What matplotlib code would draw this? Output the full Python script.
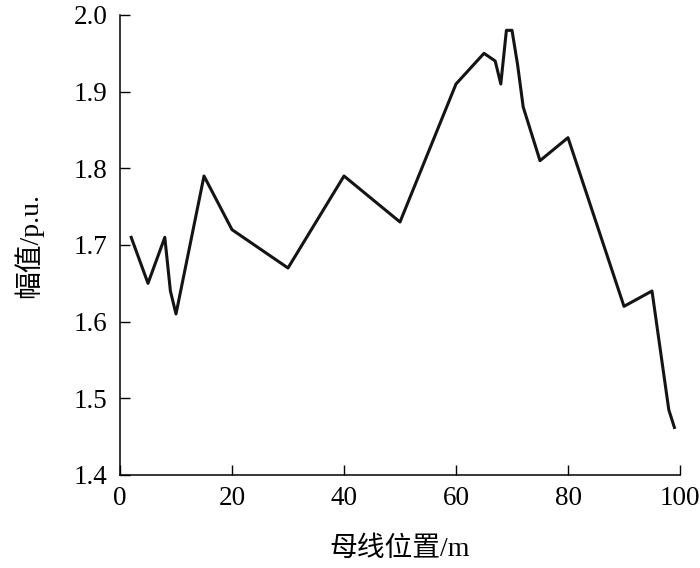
import matplotlib
matplotlib.use('Agg')
import matplotlib.pyplot as plt

plt.rcParams['font.family'] = ['Liberation Serif', 'Noto Sans CJK SC']

x = [2, 5, 8, 9, 10, 15, 20, 30, 40, 50, 60, 65, 67, 68, 69, 70, 71, 72,
     75, 80, 90, 95, 98, 99]
y = [1.71, 1.65, 1.71, 1.64, 1.61, 1.79, 1.72, 1.67, 1.79, 1.73, 1.91,
     1.95, 1.94, 1.91, 1.98, 1.98, 1.935, 1.88, 1.81, 1.84, 1.62, 1.64,
     1.485, 1.462]

xticks = [0, 20, 40, 60, 80, 100]
yticks = [1.4, 1.5, 1.6, 1.7, 1.8, 1.9, 2.0]

fig = plt.figure(figsize=(7, 5.68), dpi=100)
ax = fig.add_axes([120 / 700, 93 / 568, 560 / 700, 460 / 568])

ax.plot(x, y, color='#141414', linewidth=2.2)

ax.set_xlim(0, 100)
ax.set_ylim(1.4, 2.0)
ax.set_xticks(xticks)
ax.set_yticks(yticks)
ax.set_yticklabels(['%.1f' % v for v in yticks])
ax.tick_params(direction='in', length=7, width=1, labelsize=19.5)
ax.tick_params(axis='x', pad=8)
ax.tick_params(axis='y', pad=9)
ax.spines['top'].set_visible(False)
ax.spines['right'].set_visible(False)
for s in ['left', 'bottom']:
    ax.spines[s].set_linewidth(1.1)

ax.set_xlabel('母线位置/m', fontsize=20, labelpad=18)
ax.set_ylabel('幅值/p.u.', fontsize=20, labelpad=22)

fig.savefig('out.png', dpi=100)
